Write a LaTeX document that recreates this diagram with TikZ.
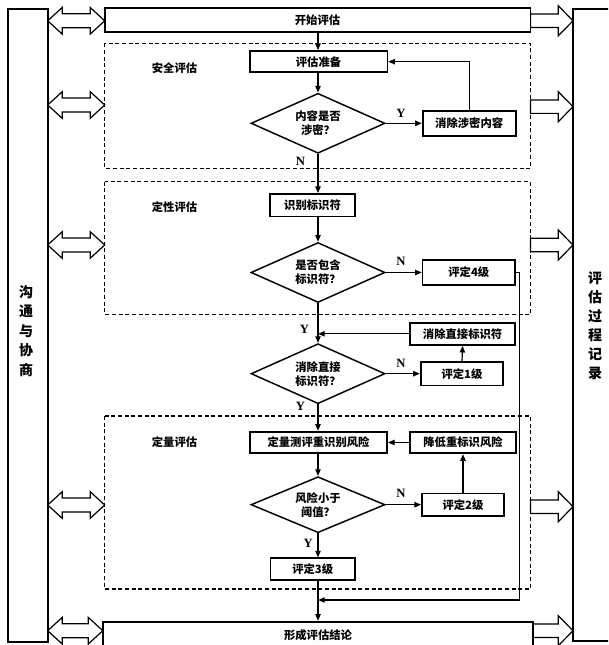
\documentclass[tikz,border=0pt]{standalone}
\usepackage{fontspec}
\newfontfamily\cjk{Noto Sans CJK SC}
\newfontfamily\ynfont{Liberation Serif}
\usetikzlibrary{shapes.geometric,arrows.meta}
\newcommand\dblArrShape[3]{%
  \draw[arrshape] (#2,#1) -- (#2+14.5,#1-13.3) -- (#2+14.5,#1-7) -- (#3-14.5,#1-7) -- (#3-14.5,#1-13.3) -- (#3,#1)
    -- (#3-14.5,#1+13.3) -- (#3-14.5,#1+7) -- (#2+14.5,#1+7) -- (#2+14.5,#1+13.3) -- cycle;}
\newcommand\oneArrShape[3]{%
  \draw[arrshape] (#2,#1-6.7) -- (#3-14.7,#1-6.7) -- (#3-14.7,#1-15) -- (#3,#1) -- (#3-14.7,#1+15)
    -- (#3-14.7,#1+6.7) -- (#2,#1+6.7) -- cycle;}
\tikzset{
  box/.style={draw, line width=1.3pt, inner sep=0pt, font=\cjk\bfseries\fontsize{8.5}{10}\selectfont, fill=white},
  dec/.style={draw, diamond, line width=1.1pt, inner sep=0pt, aspect=2.2, minimum width=100.5pt, minimum height=45pt,
    align=center, font=\cjk\bfseries\fontsize{8.5}{10.5}\selectfont},
  sect/.style={draw, line width=1.1pt, dash pattern=on 3pt off 2pt},
  seclabel/.style={font=\cjk\bfseries\fontsize{8.5}{10}\selectfont},
  yn/.style={font=\ynfont\bfseries\fontsize{9.5}{10}\selectfont},
  flow/.style={line width=0.9pt, -{Triangle[length=5pt,width=4pt]}},
  plain/.style={line width=0.9pt},
  arrshape/.style={draw, line width=0.9pt, fill=white, line join=miter},
  coltext/.style={font=\cjk\bfseries\fontsize{10.5}{14.7}\selectfont, align=center},
}
\begin{document}
\begin{tikzpicture}[x=0.75pt,y=-0.75pt]
\useasboundingbox (0,0) rectangle (608,645);
\clip (0,0) rectangle (608,645);
% side columns
\draw[line width=1.2pt] (8,9) rectangle (47.7,642);
\draw[line width=1.2pt] (573,9) rectangle (620,641);
\node[coltext] (comm) at (26,331) {沟\\通\\与\\协\\商};
\node[coltext, font=\cjk\bfseries\fontsize{10.5}{14.25}\selectfont] (rec) at (595,326) {评\\估\\过\\程\\记\\录};
% dashed sections
\draw[sect] (104.7,43.3) rectangle (530.4,168.3);
\draw[sect] (104.7,181.7) rectangle (530.4,314.3);
\draw[sect] (104.7,416) rectangle (530.4,589);
\node[seclabel] (s1) at (174.5,68.3) {安全评估};
\node[seclabel] (s2) at (174.5,207.3) {定性评估};
\node[seclabel] (s3) at (174.5,441.7) {定量评估};
% big arrows
\dblArrShape{20.8}{47.7}{104.7}
\dblArrShape{105}{47.7}{104.7}
\dblArrShape{245}{47.7}{104.7}
\dblArrShape{505}{47.7}{104.7}
\dblArrShape{630.7}{47.7}{102.8}
\oneArrShape{20.8}{530.4}{573}
\oneArrShape{106.7}{530.4}{573}
\oneArrShape{245}{530.4}{573}
\oneArrShape{506.7}{530.4}{573}
\oneArrShape{630.7}{533.2}{573}
% nodes
\node[box, minimum width=319.3pt, minimum height=18pt] (start) at (317.55,20.3) {开始评估};
\node[box, minimum width=103.3pt, minimum height=16pt] (prep) at (318.5,61.7) {评估准备};
\node[dec] (d1) at (318,123.3) {内容是否\\涉密？};
\node[box, minimum width=69.8pt, minimum height=18.8pt] (del1) at (469.2,123.3) {消除涉密内容};
\node[box, minimum width=63.4pt, minimum height=17pt] (ident) at (312.5,205.3) {识别标识符};
\node[dec] (d2) at (318,272.5) {是否包含\\标识符？};
\node[box, minimum width=69.3pt, minimum height=18.8pt] (lv4) at (468.8,272.5) {评定4级};
\node[box, minimum width=78.6pt, minimum height=16.7pt] (del2) at (462.6,333.8) {消除直接标识符};
\node[dec] (d3) at (318,373.7) {消除直接\\标识符？};
\node[box, minimum width=62pt, minimum height=17.5pt] (lv1) at (462,373.7) {评定1级};
\node[box, minimum width=102.8pt, minimum height=16.2pt] (quant) at (318.5,442.5) {定量测评重识别风险};
\node[box, minimum width=79.1pt, minimum height=16.2pt] (reduce) at (463,442.5) {降低重标识风险};
\node[dec, minimum height=42pt] (d4) at (318,504.7) {风险小于\\阈值？};
\node[box, minimum width=61.5pt, minimum height=16.7pt] (lv2) at (463,504.7) {评定2级};
\node[box, minimum width=63.2pt, minimum height=16.3pt] (lv3) at (312.7,569.2) {评定3级};
\node[box, minimum width=322.8pt, minimum height=20pt] (concl) at (318,635) {形成评估结论};
\coordinate (jr) at (519.6,600);
% connectors
\draw[flow] (start.south -| d1.north) -- (prep.north -| d1.north);
\draw[flow] (prep.south -| d1.north) -- (d1.north);
\draw[flow] (d1.east) -- (del1.west);
\draw[flow] (del1.north) |- (prep.east);
\draw[flow] (d1.south) -- (d1.south |- ident.north);
\draw[flow] (d1.south |- ident.south) -- (d2.north);
\draw[flow] (d2.east) -- (lv4.west);
\draw[plain] (lv4.east) -| (jr);
\draw[flow] (jr) -- (jr -| d1.south);
\draw[flow] (d2.south) -- (d3.north);
\draw[flow] (del2.west) -- (del2.west -| d3.north);
\draw[flow] (d3.east) -- (lv1.west);
\draw[flow] (lv1.north) -- (del2.south);
\draw[flow] (d3.south) -- (quant.north -| d3.south);
\draw[flow] (quant.south -| d4.north) -- (d4.north);
\draw[flow] (reduce.west) -- (quant.east);
\draw[flow] (d4.east) -- (lv2.west);
\draw[flow] (lv2.north) -- (reduce.south);
\draw[flow] (d4.south) -- (d4.south |- lv3.north);
\draw[flow] (d4.south |- lv3.south) -- (d4.south |- concl.north);
% Y/N labels
\node[yn] (y1) at (401,113.3) {Y};
\node[yn] (n1) at (300.5,161) {N};
\node[yn] (n2) at (401,261.7) {N};
\node[yn] (y2) at (304.4,329.3) {Y};
\node[yn] (n3) at (401,363.3) {N};
\node[yn] (y3) at (300.5,406.7) {Y};
\node[yn] (n4) at (401,493.3) {N};
\node[yn] (y4) at (308.3,543.3) {Y};
\end{tikzpicture}
\end{document}
